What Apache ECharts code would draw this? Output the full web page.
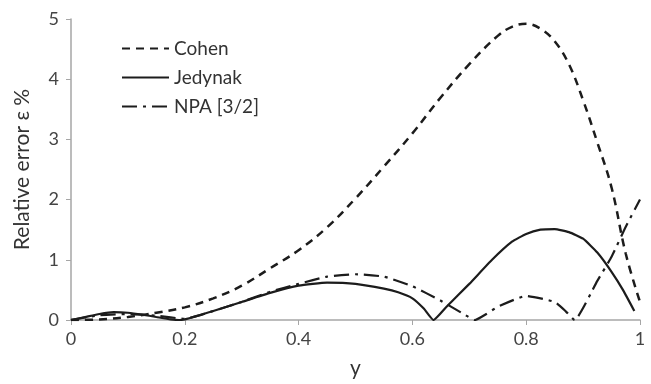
<!DOCTYPE html>
<html>
<head>
<meta charset="utf-8">
<script src="https://cdn.jsdelivr.net/npm/echarts@6/dist/echarts.min.js"></script>
<style>
  html, body { margin: 0; padding: 0; background: #fff; }
  #chart { width: 651px; height: 384px; }
</style>
</head>
<body>
<div id="chart"></div>
<script>
// [y, relative error %]
const cohen = [
  [0, 0], [0.05, 0.01], [0.1, 0.05], [0.15, 0.12], [0.2, 0.21], [0.25, 0.36],
  [0.3, 0.57], [0.35, 0.86], [0.4, 1.16], [0.45, 1.54], [0.5, 2.02], [0.55, 2.55],
  [0.6, 3.1], [0.65, 3.7], [0.7, 4.25], [0.75, 4.72], [0.775, 4.87], [0.8, 4.92],
  [0.825, 4.84], [0.85, 4.63], [0.875, 4.25], [0.9, 3.65], [0.925, 2.95],
  [0.95, 2.2], [0.975, 1.1], [1.0, 0.3]
]
const jedynak = [
  [0, 0], [0.025, 0.05], [0.05, 0.1], [0.075, 0.13], [0.1, 0.12], [0.125, 0.09],
  [0.15, 0.05], [0.175, 0.01], [0.19, 0], [0.2, 0.01], [0.25, 0.15], [0.3, 0.3],
  [0.35, 0.45], [0.4, 0.57], [0.45, 0.62], [0.5, 0.6], [0.55, 0.52], [0.575, 0.46],
  [0.6, 0.36], [0.62, 0.19], [0.637, 0], [0.66, 0.22], [0.7, 0.6], [0.74, 1.0],
  [0.775, 1.3], [0.8, 1.43], [0.825, 1.5], [0.85, 1.51], [0.875, 1.46], [0.9, 1.35],
  [0.925, 1.12], [0.95, 0.8], [0.97, 0.5], [0.99, 0.15]
]
const npa = [
  [0, 0], [0.05, 0.08], [0.1, 0.1], [0.15, 0.07], [0.2, 0.02], [0.25, 0.15],
  [0.3, 0.3], [0.35, 0.47], [0.4, 0.6], [0.45, 0.72], [0.5, 0.76], [0.55, 0.72],
  [0.6, 0.56], [0.65, 0.32], [0.69, 0.1], [0.71, 0], [0.73, 0.1], [0.75, 0.22],
  [0.8, 0.4], [0.85, 0.3], [0.87, 0.14], [0.885, 0], [0.925, 0.65], [0.95, 1.05],
  [0.975, 1.55], [1.0, 2.0]
]
const seriesNames = ['Cohen', 'Jedynak', 'NPA [3/2]']
const xTicks = [0, 0.2, 0.4, 0.6, 0.8, 1]
const yTicks = [0, 1, 2, 3, 4, 5]

const font = 'Lato, "Open Sans", sans-serif'
const ink = '#1c1c1c'

let myChart = echarts.init(document.getElementById('chart'))
let option = {
  backgroundColor: '#fff',
  animation: false,
  grid: { left: 71, right: 11, top: 19, bottom: 58 },
  legend: {
    orient: 'vertical',
    left: 116,
    top: 34,
    itemWidth: 47,
    itemHeight: 16,
    itemGap: 10,
    // hide the marker dot, keep only the line sample
    itemStyle: { color: 'transparent', borderColor: 'transparent', borderWidth: 0 },
    textStyle: { fontFamily: font, fontSize: 19, color: '#333' },
    data: seriesNames
  },
  xAxis: {
    type: 'value',
    min: xTicks[0],
    max: xTicks[xTicks.length - 1],
    interval: 0.2,
    name: 'y',
    nameLocation: 'middle',
    nameGap: 38,
    nameTextStyle: { fontFamily: font, fontSize: 21, color: '#333' },
    axisLine: { lineStyle: { color: '#a6a6a6', width: 1.5 } },
    axisTick: { show: true, length: 5, lineStyle: { color: '#a6a6a6' } },
    axisLabel: { fontFamily: font, fontSize: 18, color: '#444', margin: 10 },
    splitLine: { show: false }
  },
  yAxis: {
    type: 'value',
    min: yTicks[0],
    max: yTicks[yTicks.length - 1],
    interval: 1,
    name: 'Relative error ε %',
    nameLocation: 'middle',
    nameGap: 38,
    nameTextStyle: { fontFamily: font, fontSize: 21, color: '#333' },
    axisLine: { show: true, lineStyle: { color: '#a6a6a6', width: 1.5 } },
    axisTick: { show: true, length: 5, lineStyle: { color: '#a6a6a6' } },
    axisLabel: { fontFamily: font, fontSize: 18, color: '#444', margin: 12 },
    splitLine: { show: false }
  },
  series: [
    {
      name: seriesNames[0], type: 'line', data: cohen, smooth: 0.4, symbol: 'none',
      lineStyle: { color: ink, width: 2.5, type: [8, 6] }
    },
    {
      name: seriesNames[1], type: 'line', data: jedynak, smooth: 0.15, symbol: 'none',
      lineStyle: { color: ink, width: 2.2, type: 'solid' }
    },
    {
      name: seriesNames[2], type: 'line', data: npa, smooth: 0.15, symbol: 'none',
      lineStyle: { color: ink, width: 2.2, type: [15, 6, 3, 6] }
    }
  ]
}
myChart.setOption(option)
</script>
</body>
</html>
